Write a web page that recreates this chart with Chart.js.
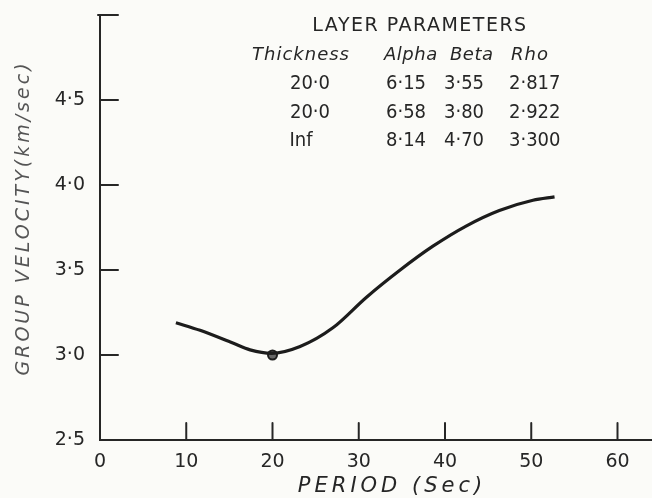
<!DOCTYPE html>
<html>
<head>
<meta charset="utf-8">
<script src="https://cdn.jsdelivr.net/npm/chart.js@4.4.1/dist/chart.umd.min.js"></script>
<style>
    html, body { margin: 0; padding: 0; background: #fbfbf8; }
    #wrap { width: 652px; height: 498px; }
</style>
</head>
<body>
<div id="wrap"><canvas id="dispersion" width="652" height="498"></canvas></div>
<script>
// Group velocity dispersion curve
const period = [8.8, 11.6, 15.4, 17.4, 19.9, 23.2, 27.0, 30.9, 34.8, 38.6, 42.5, 46.3, 50.2, 52.7];
const velocity = [3.19, 3.145, 3.07, 3.03, 3.01, 3.05, 3.16, 3.34, 3.50, 3.64, 3.76, 3.85, 3.91, 3.93];
const markerPeriod = [20];
const markerVelocity = [3.0];

const xTicks = [0, 10, 20, 30, 40, 50, 60];
const yTicks = [2.5, 3.0, 3.5, 4.0, 4.5];

// Layer parameters table
const tableTitle = 'LAYER PARAMETERS';
const tableHead = ['Thickness', 'Alpha', 'Beta', 'Rho'];
const thickness = ['20·0', '20·0', 'Inf'];
const alpha = ['6·15', '6·58', '8·14'];
const beta = ['3·55', '3·80', '4·70'];
const rho = ['2·817', '2·922', '3·300'];

const ink = '#262626';

function dot(v) {
    return v.toFixed(1).replace('.', '·');
}

// no extra label padding, the frame is placed by layout.padding only
function noPadding(scale) {
    scale.paddingTop = 0;
    scale.paddingBottom = 0;
    scale.paddingLeft = 0;
    scale.paddingRight = 0;
}

// paper background
const paperPlugin = {
    id: 'paper',
    beforeDraw(chart) {
        const ctx = chart.ctx;
        ctx.save();
        ctx.fillStyle = '#fbfbf8';
        ctx.fillRect(0, 0, chart.width, chart.height);
        ctx.restore();
    }
};

// tick marks drawn on the inside of the axes, plus axis titles and table
const inkPlugin = {
    id: 'inkMarks',
    afterDraw(chart) {
        const ctx = chart.ctx;
        const x = chart.scales.x;
        const y = chart.scales.y;
        const area = chart.chartArea;
        ctx.save();
        ctx.strokeStyle = ink;
        ctx.lineWidth = 2;
        ctx.lineCap = 'round';

        yTicks.slice(1).forEach(v => {
            const py = y.getPixelForValue(v);
            ctx.beginPath();
            ctx.moveTo(area.left, py);
            ctx.lineTo(area.left + 18, py);
            ctx.stroke();
        });
        // cap at top of the axis
        ctx.beginPath();
        ctx.moveTo(area.left - 2, area.top);
        ctx.lineTo(area.left + 18, area.top);
        ctx.stroke();

        xTicks.slice(1).forEach(v => {
            const px = x.getPixelForValue(v);
            ctx.beginPath();
            ctx.moveTo(px, area.bottom);
            ctx.lineTo(px, area.bottom - 17);
            ctx.stroke();
        });

        // axis titles
        ctx.fillStyle = ink;
        ctx.textAlign = 'center';
        ctx.textBaseline = 'middle';
        ctx.letterSpacing = '4px';
        ctx.font = 'italic 21px "DejaVu Sans"';
        ctx.fillText('PERIOD (Sec)', 392, 487);

        ctx.save();
        ctx.fillStyle = '#555';
        ctx.letterSpacing = '3px';
        ctx.font = 'italic 19px "DejaVu Sans"';
        ctx.translate(24, 218);
        ctx.rotate(-Math.PI / 2);
        ctx.fillText('GROUP VELOCITY(km/sec)', 0, 0);
        ctx.restore();

        // table
        ctx.letterSpacing = '1.5px';
        ctx.font = '19px "DejaVu Sans"';
        ctx.fillText(tableTitle, 420, 26);
        ctx.textAlign = 'left';
        const headX = [252, 384, 450, 511];
        const headSpacing = ['1px', '0.5px', '0.5px', '1px'];
        ctx.font = 'italic 18px "DejaVu Sans"';
        tableHead.forEach((h, i) => {
            ctx.letterSpacing = headSpacing[i];
            ctx.fillText(h, headX[i], 55);
        });
        ctx.letterSpacing = '0px';
        ctx.font = '20px "DejaVu Sans Condensed", "DejaVu Sans"';
        const rowY = [84, 113, 141];
        thickness.forEach((t, i) => {
            ctx.textAlign = 'center';
            ctx.fillText(t, 310 - (i === 2 ? 9 : 0), rowY[i]);
            ctx.textAlign = 'left';
            ctx.fillText(alpha[i], 386, rowY[i]);
            ctx.fillText(beta[i], 444, rowY[i]);
            ctx.fillText(rho[i], 509, rowY[i]);
        });
        ctx.restore();
    }
};

const tickFont = { family: 'DejaVu Sans', size: 19 };

new Chart(document.getElementById('dispersion'), {
    type: 'line',
    data: {
        datasets: [{
            data: period.map((p, i) => ({ x: p, y: velocity[i] })),
            borderColor: '#1c1c1c',
            borderWidth: 3.2,
            pointRadius: 0,
            tension: 0.4,
            cubicInterpolationMode: 'monotone',
            fill: false
        }, {
            data: markerPeriod.map((p, i) => ({ x: p, y: markerVelocity[i] })),
            showLine: false,
            pointRadius: 4.5,
            pointBorderWidth: 2,
            pointBackgroundColor: '#666',
            pointBorderColor: '#1c1c1c'
        }]
    },
    options: {
        responsive: false,
        animation: false,
        events: [],
        layout: { autoPadding: false, padding: { top: 15, right: 0, left: 0, bottom: 0 } },
        plugins: {
            legend: { display: false },
            tooltip: { enabled: false }
        },
        scales: {
            x: {
                type: 'linear',
                min: 0,
                max: 64,
                afterBuildTicks: scale => { scale.ticks = xTicks.map(v => ({ value: v })); },
                afterFit: scale => { scale.height = 58; noPadding(scale); },
                grid: { display: false, drawTicks: false },
                border: { color: ink, width: 2 },
                ticks: {
                    color: ink,
                    font: tickFont,
                    padding: 11,
                    maxRotation: 0,
                    callback: v => String(v)
                }
            },
            y: {
                min: 2.5,
                max: 5.0,
                afterBuildTicks: scale => { scale.ticks = yTicks.map(v => ({ value: v })); },
                afterFit: scale => { scale.width = 100; noPadding(scale); },
                grid: { display: false, drawTicks: false },
                border: { color: ink, width: 2 },
                ticks: {
                    color: ink,
                    font: tickFont,
                    padding: 15,
                    callback: v => dot(v)
                }
            }
        }
    },
    plugins: [paperPlugin, inkPlugin]
});
</script>
</body>
</html>
